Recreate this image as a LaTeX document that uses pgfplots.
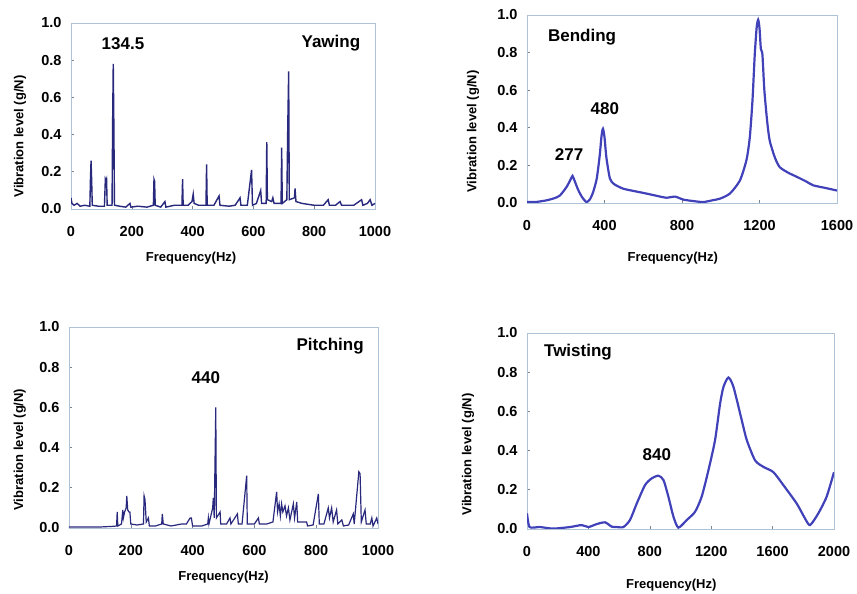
\documentclass[border=0pt]{standalone}
\usepackage{fontspec}
\setmainfont{Liberation Sans}
\usepackage{pgfplots}
\pgfplotsset{compat=1.18}
\definecolor{frame}{RGB}{175,195,215}
\definecolor{spk}{RGB}{40,40,125}
\definecolor{crv}{RGB}{65,65,185}
\tikzset{ann/.style={font=\fontsize{17}{19}\selectfont\bfseries}}
\pgfplotsset{
  panel/.style={
    scale only axis, anchor=south west,
    ymin=0, ymax=1, ytick={0,0.2,0.4,0.6,0.8,1.0},
    axis line style={frame, line width=0.8pt},
    tick style={frame!70!black, line width=0.6pt},
    major tick length=3pt, tick align=inside,
    xtick pos=bottom, ytick pos=left,
    /pgf/number format/assume math mode=true,
    /pgf/number format/1000 sep={},
    yticklabel style={/pgf/number format/fixed, /pgf/number format/fixed zerofill, /pgf/number format/precision=1, xshift=-6pt},
    tick label style={font=\fontsize{14.5}{16}\selectfont\bfseries},
    xticklabel style={yshift=-14pt},
    label style={font=\fontsize{13}{15}\selectfont\bfseries},
    scaled ticks=false,
  },
}
\begin{document}
\begin{tikzpicture}
\path[use as bounding box] (0,0) rectangle (857pt,594pt);
% ---------------- Yawing
\begin{axis}[panel, at={(71pt,385pt)}, width=304pt, height=186pt,
  xmin=0, xmax=1000, xtick={0,200,...,1000},
  xlabel={Frequency(Hz)}, ylabel={Vibration level (g/N)},
  xlabel style={at={(axis description cs:0.395,0)}, anchor=center, yshift=-49pt},
  ylabel style={at={(axis description cs:-0.168,0.39)}, anchor=center}]
\addplot[spk, line width=1.4pt] coordinates {
(0,0.06) (3,0.03) (10,0.02) (20,0.03) (30,0.015) (45,0.02) (62,0.015) (64,0.16) (66,0.26) (68,0.15) (70,0.02)
(90,0.015) (110,0.015) (113,0.16) (115,0.15) (117,0.16) (119,0.02) (135,0.02) (137,0.47) (139,0.78) (141,0.45) (143,0.02)
(160,0.015) (180,0.01) (194,0.03) (197,0.01) (220,0.015) (250,0.01) (271,0.02) (273,0.16) (275,0.15) (277,0.02)
(295,0.01) (309,0.04) (312,0.01) (340,0.02) (365,0.02) (367,0.16) (369,0.02) (385,0.02) (398,0.04) (402,0.08) (405,0.03)
(420,0.02) (444,0.02) (446,0.24) (448,0.02) (470,0.02) (487,0.07) (490,0.02) (520,0.015) (540,0.02) (556,0.06) (559,0.02)
(580,0.02) (594,0.21) (597,0.02) (610,0.03) (624,0.10) (627,0.03) (642,0.03) (644,0.36) (646,0.05) (660,0.04) (664,0.06)
(668,0.03) (680,0.03) (691,0.03) (693,0.33) (695,0.03) (710,0.05) (713,0.44) (716,0.74) (718,0.05) (735,0.06) (737,0.11)
(740,0.04) (760,0.03) (800,0.02) (830,0.02) (846,0.05) (850,0.02) (870,0.02) (885,0.04) (890,0.02) (930,0.02) (956,0.05)
(960,0.02) (975,0.03) (984,0.05) (990,0.02) (1000,0.03)};
\node[ann] at (axis cs:171,0.89) {134.5};
\node[ann] at (axis cs:855,0.89) {Yawing};
\end{axis}
% ---------------- Bending
\begin{axis}[panel, at={(527pt,391pt)}, width=310pt, height=188pt,
  xmin=0, xmax=1600, xtick={0,400,...,1600},
  xlabel={Frequency(Hz)}, ylabel={Vibration level (g/N)},
  xlabel style={at={(axis description cs:0.47,0)}, anchor=center, yshift=-55pt},
  ylabel style={at={(axis description cs:-0.174,0.38)}, anchor=center}]
\addplot[crv, line width=2.2pt, smooth, tension=0.4] coordinates {
(0,0.005) (50,0.006) (100,0.014) (140,0.025) (170,0.04) (204,0.085) (225,0.125) (235,0.144) (245,0.12) (264,0.07)
(285,0.03) (307,0.005) (325,0.02) (342,0.06) (360,0.13) (375,0.25) (385,0.36) (392,0.395) (400,0.35) (410,0.24)
(428,0.13) (450,0.1) (497,0.076) (560,0.062) (617,0.05) (670,0.038) (720,0.028) (764,0.034) (807,0.018) (860,0.01)
(910,0.005) (960,0.015) (996,0.023) (1047,0.05) (1099,0.12) (1133,0.23) (1150,0.35) (1164,0.55) (1175,0.78) (1185,0.93)
(1193,0.975) (1200,0.93) (1207,0.82) (1215,0.79) (1225,0.60) (1240,0.43) (1253,0.33) (1280,0.24) (1305,0.19) (1350,0.16)
(1391,0.14) (1440,0.115) (1477,0.094) (1540,0.08) (1597,0.067) (1600,0.066)};
\node[ann] at (axis cs:284,0.88) {Bending};
\node[ann] at (axis cs:402,0.50) {480};
\node[ann] at (axis cs:217,0.255) {277};
\end{axis}
% ---------------- Pitching
\begin{axis}[panel, at={(69pt,66pt)}, width=309pt, height=201pt,
  xmin=0, xmax=1000, xtick={0,200,...,1000},
  xlabel={Frequency(Hz)}, ylabel={Vibration level (g/N)},
  xlabel style={at={(axis description cs:0.50,0)}, anchor=center, yshift=-49pt},
  ylabel style={at={(axis description cs:-0.159,0.39)}, anchor=center}]
\addplot[spk, line width=1.2pt] coordinates {
(0,0.005) (100,0.005) (140,0.008) (154,0.01) (156,0.08) (158,0.01) (170,0.02) (174,0.09) (176,0.05) (180,0.08)
(185,0.10) (187,0.16) (190,0.09) (194,0.08) (197,0.08) (200,0.02) (220,0.015) (241,0.02) (243,0.16) (246,0.14)
(250,0.03) (257,0.05) (260,0.01) (280,0.01) (300,0.02) (302,0.07) (305,0.02) (330,0.01) (365,0.02) (380,0.02)
(392,0.05) (396,0.05) (400,0.01) (430,0.01) (449,0.02) (451,0.05) (453,0.02) (465,0.1) (467,0.15) (470,0.05)
(475,0.60) (477,0.05) (489,0.08) (491,0.02) (510,0.02) (521,0.05) (524,0.02) (545,0.07) (548,0.02) (560,0.02)
(575,0.26) (577,0.02) (600,0.02) (613,0.05) (616,0.02) (640,0.02) (660,0.03) (672,0.18) (675,0.08) (680,0.12)
(684,0.06) (688,0.12) (692,0.08) (699,0.11) (704,0.06) (710,0.10) (715,0.04) (726,0.12) (730,0.05) (737,0.13)
(740,0.03) (769,0.03) (772,0.01) (790,0.015) (807,0.17) (810,0.02) (825,0.02) (839,0.10) (843,0.05) (850,0.10)
(855,0.03) (866,0.09) (870,0.02) (883,0.04) (888,0.01) (905,0.015) (920,0.07) (923,0.02) (938,0.28) (942,0.27)
(946,0.03) (958,0.09) (962,0.02) (975,0.02) (980,0.05) (984,0.01) (996,0.05) (1000,0.02)};
\node[ann] at (axis cs:845,0.905) {Pitching};
\node[ann] at (axis cs:443,0.75) {440};
\end{axis}
% ---------------- Twisting
\begin{axis}[panel, at={(527pt,65pt)}, width=307pt, height=196pt,
  xmin=0, xmax=2000, xtick={0,400,...,2000},
  xlabel={Frequency(Hz)}, ylabel={Vibration level (g/N)},
  xlabel style={at={(axis description cs:0.47,0)}, anchor=center, yshift=-56pt},
  ylabel style={at={(axis description cs:-0.192,0.38)}, anchor=center}]
\addplot[crv, line width=2.2pt, smooth, tension=0.4] coordinates {
(0,0.08) (17,0.01) (84,0.01) (171,0.002) (280,0.01) (356,0.02) (400,0.01) (454,0.025) (508,0.034) (552,0.012)
(584,0.01) (628,0.01) (671,0.046) (715,0.13) (769,0.224) (812,0.258) (856,0.272) (889,0.25) (921,0.165) (954,0.063)
(986,0.007) (1041,0.046) (1095,0.088) (1138,0.165) (1182,0.30) (1225,0.453) (1258,0.64) (1280,0.725) (1312,0.773)
(1345,0.725) (1399,0.555) (1432,0.453) (1486,0.35) (1540,0.317) (1605,0.29) (1670,0.224) (1757,0.13) (1811,0.054)
(1844,0.02) (1898,0.08) (1952,0.165) (2000,0.29)};
\node[ann] at (axis cs:332,0.90) {Twisting};
\node[ann] at (axis cs:846,0.38) {840};
\end{axis}
\end{tikzpicture}
\end{document}
